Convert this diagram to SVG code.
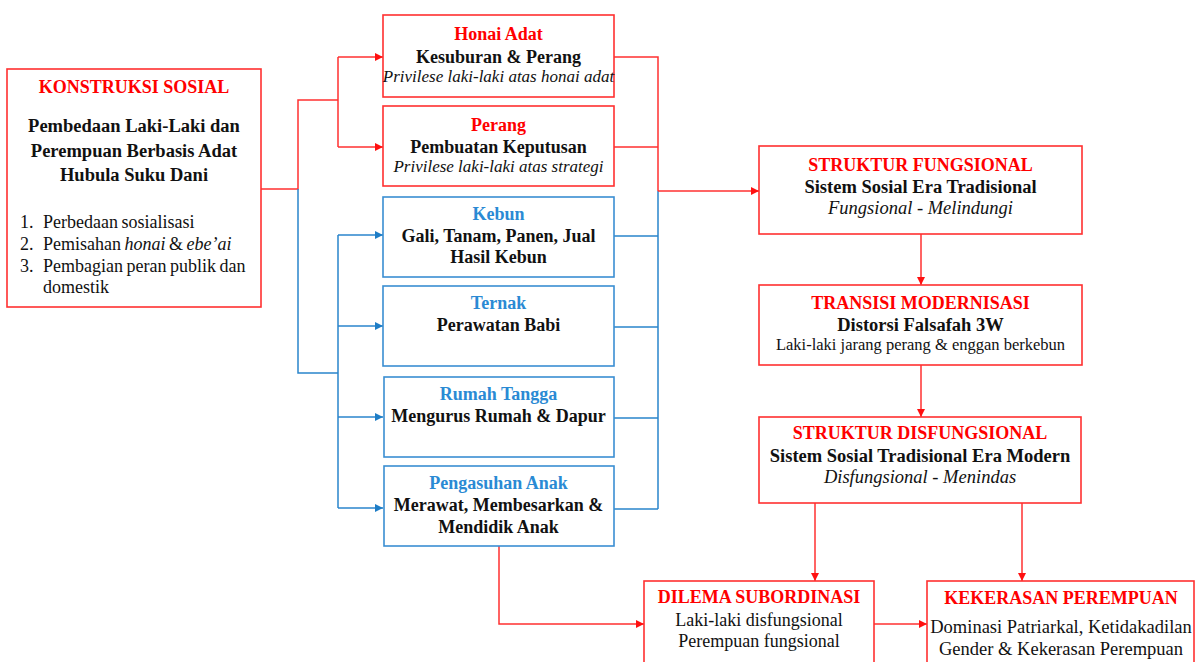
<svg xmlns="http://www.w3.org/2000/svg" width="1196" height="662" viewBox="0 0 1196 662">
<style>
text{font-family:"Liberation Serif","Times New Roman",serif;text-anchor:middle;fill:#111}
.t{font-weight:bold;font-size:18px;fill:#FF0000}
.tb{font-weight:bold;font-size:18px;fill:#2A8AD4}
.b{font-weight:bold;font-size:18px}
.i{font-style:italic;font-size:17px}
.r{font-size:18px}
.rl{font-size:18px;text-anchor:start;word-spacing:-1px}
.rb{fill:#fff;stroke:#FF3030;stroke-width:1.6}
.bb{fill:#fff;stroke:#3A8ED2;stroke-width:1.6}
.cr{fill:none;stroke:#FF3030;stroke-width:1.5}
.cb{fill:none;stroke:#2A85CC;stroke-width:1.5}
</style>
<defs>
<marker id="ar" viewBox="0 0 10 10" refX="10" refY="5" markerWidth="8" markerHeight="8" markerUnits="userSpaceOnUse" orient="auto"><path d="M0,0 L10,5 L0,10 Z" fill="#FF1010"/></marker>
<marker id="ab" viewBox="0 0 10 10" refX="10" refY="5" markerWidth="8" markerHeight="8" markerUnits="userSpaceOnUse" orient="auto"><path d="M0,0 L10,5 L0,10 Z" fill="#1E7DC6"/></marker>
</defs>
<rect width="1196" height="662" fill="#fff"/>

<g id="connectors">
<path class="cr" d="M261,189 H298 V100 H338 M338,57 V147"/>
<path class="cr" d="M338,57 H383" marker-end="url(#ar)"/>
<path class="cr" d="M338,147 H383" marker-end="url(#ar)"/>
<path class="cb" d="M298,189 V373 H338 M338,235 V508"/>
<path class="cb" d="M338,235 H383" marker-end="url(#ab)"/>
<path class="cb" d="M338,326 H383" marker-end="url(#ab)"/>
<path class="cb" d="M338,417 H383" marker-end="url(#ab)"/>
<path class="cb" d="M338,508 H383" marker-end="url(#ab)"/>
<path class="cr" d="M614,57 H658 V191 M614,147 H658"/>
<path class="cb" d="M658,191 V509 M614,236 H658 M614,327 H658 M614,418 H658 M614,509 H658"/>
<path class="cr" d="M658,191 H759" marker-end="url(#ar)"/>
<path class="cr" d="M921,234 V285" marker-end="url(#ar)"/>
<path class="cr" d="M921,365 V417" marker-end="url(#ar)"/>
<path class="cr" d="M815,503 V581" marker-end="url(#ar)"/>
<path class="cr" d="M1022,503 V581" marker-end="url(#ar)"/>
<path class="cr" d="M499,546 V624 H644" marker-end="url(#ar)"/>
<path class="cr" d="M874,624 H927" marker-end="url(#ar)"/>
</g>

<g id="konstruksi">
<rect class="rb" x="7" y="69" width="254" height="238"/>
<text class="t" x="134" y="93">KONSTRUKSI SOSIAL</text>
<text class="b" x="134" y="132" style="font-size:18.5px">Pembedaan Laki-Laki dan</text>
<text class="b" x="134" y="157" style="font-size:18.5px">Perempuan Berbasis Adat</text>
<text class="b" x="134" y="181" style="font-size:18.5px">Hubula Suku Dani</text>
<text class="rl" x="20" y="228">1.</text><text class="rl" x="43" y="228">Perbedaan sosialisasi</text>
<text class="rl" x="20" y="250">2.</text><text class="rl" x="43" y="250">Pemisahan <tspan font-style="italic">honai</tspan> &amp; <tspan font-style="italic">ebe’ai</tspan></text>
<text class="rl" x="20" y="272">3.</text><text class="rl" x="43" y="272">Pembagian peran publik dan</text>
<text class="rl" x="43" y="293">domestik</text>
</g>

<g id="honai">
<rect class="rb" x="383" y="15" width="231" height="82"/>
<text class="t" x="498.5" y="40">Honai Adat</text>
<text class="b" x="498.5" y="63">Kesuburan &amp; Perang</text>
<text class="i" x="498.5" y="82">Privilese laki-laki atas honai adat</text>
</g>

<g id="perang">
<rect class="rb" x="383" y="106" width="231" height="80"/>
<text class="t" x="498.5" y="131">Perang</text>
<text class="b" x="498.5" y="153">Pembuatan Keputusan</text>
<text class="i" x="498.5" y="172">Privilese laki-laki atas strategi</text>
</g>

<g id="kebun">
<rect class="bb" x="383" y="197" width="231" height="80"/>
<text class="tb" x="498.5" y="220">Kebun</text>
<text class="b" x="498.5" y="242">Gali, Tanam, Panen, Jual</text>
<text class="b" x="498.5" y="263">Hasil Kebun</text>
</g>

<g id="ternak">
<rect class="bb" x="383" y="286" width="231" height="80"/>
<text class="tb" x="498.5" y="309">Ternak</text>
<text class="b" x="498.5" y="331">Perawatan Babi</text>
</g>

<g id="rumah">
<rect class="bb" x="384" y="377" width="230" height="80"/>
<text class="tb" x="498.5" y="400">Rumah Tangga</text>
<text class="b" x="498.5" y="422">Mengurus Rumah &amp; Dapur</text>
</g>

<g id="pengasuhan">
<rect class="bb" x="384" y="466" width="230" height="80"/>
<text class="tb" x="498.5" y="489">Pengasuhan Anak</text>
<text class="b" x="498.5" y="511">Merawat, Membesarkan &amp;</text>
<text class="b" x="498.5" y="533">Mendidik Anak</text>
</g>

<g id="fungsional">
<rect class="rb" x="759" y="146" width="323" height="88"/>
<text class="t" x="920.5" y="171">STRUKTUR FUNGSIONAL</text>
<text class="b" x="920.5" y="193" style="font-size:18.5px">Sistem Sosial Era Tradisional</text>
<text class="i" x="920.5" y="214" style="font-size:18.5px">Fungsional - Melindungi</text>
</g>

<g id="transisi">
<rect class="rb" x="759" y="285" width="323" height="80"/>
<text class="t" x="920.5" y="309">TRANSISI MODERNISASI</text>
<text class="b" x="920.5" y="331" style="font-size:18.5px">Distorsi Falsafah 3W</text>
<text class="r" x="920.5" y="350" style="font-size:16.5px">Laki-laki jarang perang &amp; enggan berkebun</text>
</g>

<g id="disfungsional">
<rect class="rb" x="759" y="417" width="322" height="86"/>
<text class="t" x="920" y="439">STRUKTUR DISFUNGSIONAL</text>
<text class="b" x="920" y="462" style="font-size:18.5px">Sistem Sosial Tradisional Era Modern</text>
<text class="i" x="920" y="483" style="font-size:18.5px">Disfungsional - Menindas</text>
</g>

<g id="dilema">
<rect class="rb" x="644" y="581" width="230" height="90"/>
<text class="t" x="759" y="603">DILEMA SUBORDINASI</text>
<text class="r" x="759" y="626">Laki-laki disfungsional</text>
<text class="r" x="759" y="647">Perempuan fungsional</text>
</g>

<g id="kekerasan">
<rect class="rb" x="927" y="581" width="267" height="90"/>
<text class="t" x="1061" y="604">KEKERASAN PEREMPUAN</text>
<text class="r" x="1061" y="633" style="font-size:18.5px">Dominasi Patriarkal, Ketidakadilan</text>
<text class="r" x="1061" y="655" style="font-size:18.5px">Gender &amp; Kekerasan Perempuan</text>
</g>
</svg>
